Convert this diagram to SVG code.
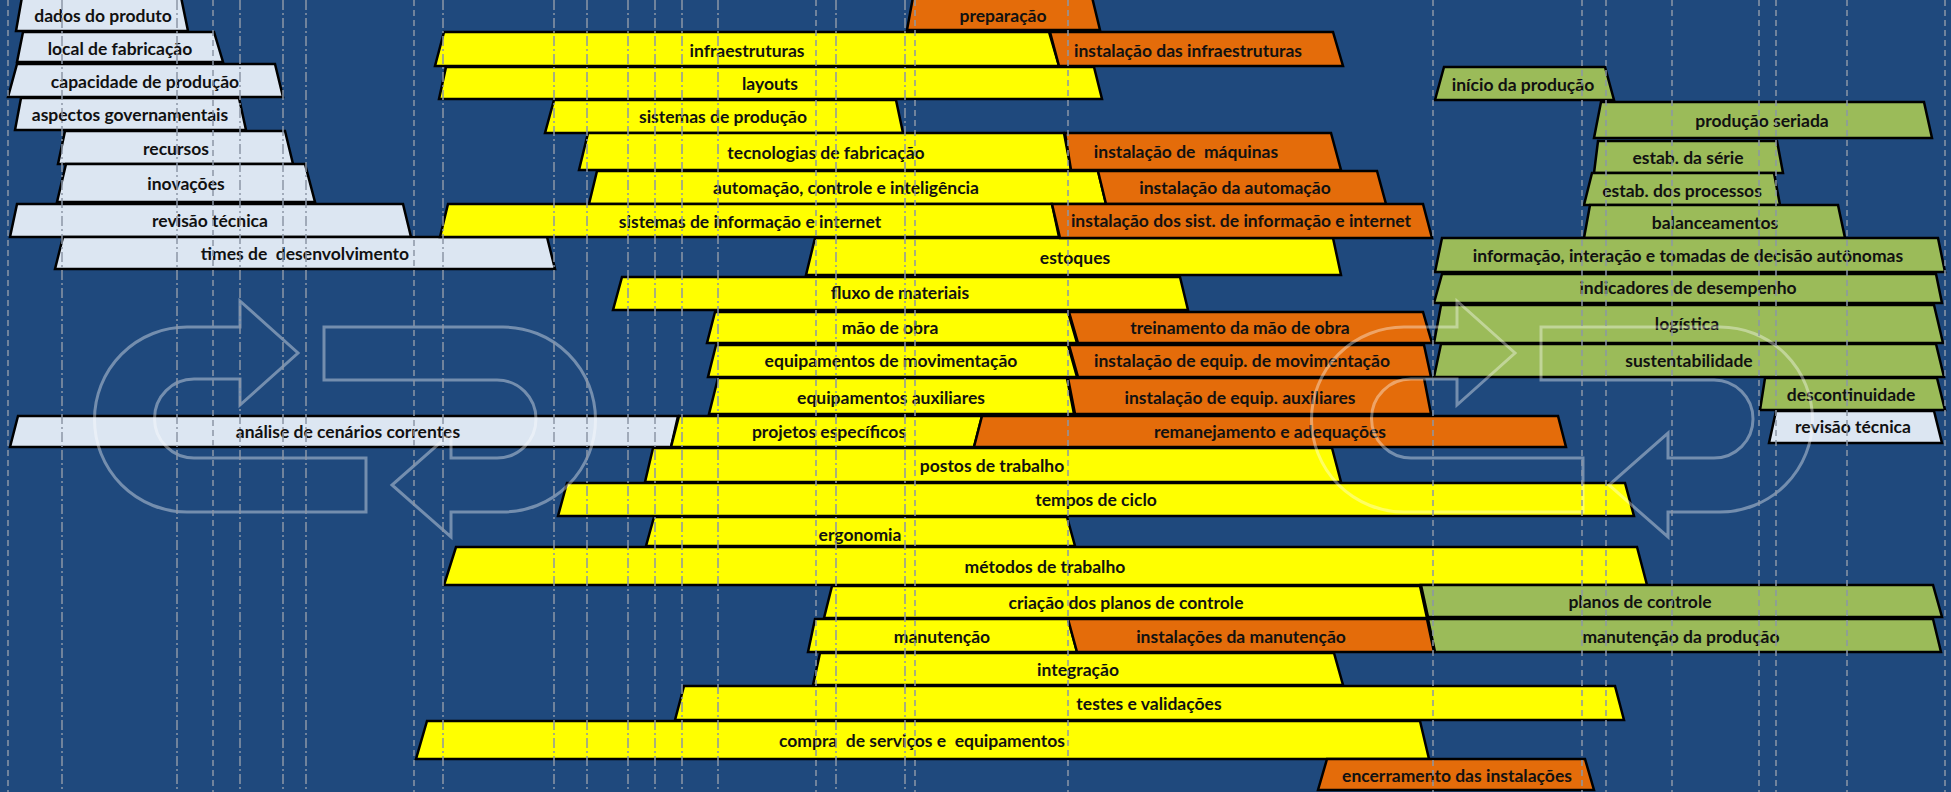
<svg xmlns="http://www.w3.org/2000/svg" width="1951" height="792" viewBox="0 0 1951 792">
  <style>
    .bx { stroke: #000; stroke-width: 2.5; stroke-linejoin: miter; }
    .lt { fill: #dce6f2; }
    .yl { fill: #ffff00; }
    .or { fill: #e46c0a; }
    .gr { fill: #9bbb59; }
    text { font-family: "Lato", "Liberation Sans", sans-serif; font-weight: bold; font-size: 17.5px; fill: #111; text-anchor: middle; white-space: pre; }
    .grid line { stroke: #8c96a6; stroke-width: 1.5; }
    .ds { stroke-dasharray: 6 4; }
    .dd { stroke-dasharray: 10 3 2 3; }
    .cycle { fill: none; stroke: #ffffff; stroke-opacity: 0.38; stroke-width: 3; stroke-linejoin: miter; }
  </style>
  <defs>
    <!-- interlocking loop arrows (watermark) -->
    <g id="loop">
      <path d="M240,327 L187,327 A92.5,92.5 0 0 0 187,512 L366,512 L366,458 L194,458 A39.5,39.5 0 0 1 194,379 L240,379 L240,405 L298,353 L240,301 Z"/>
      <path d="M324,327 L503,327 A92.5,92.5 0 0 1 503,512 L451,512 L451,537 L392,485 L451,433 L451,458 L497,458 A39,39 0 0 0 497,380 L324,380 Z"/>
    </g>
  </defs>

  <rect x="0" y="0" width="1951" height="792" fill="#1f497d"/>

  <!-- preparation phase (light) -->
  <g id="dados-produto"><polygon class="bx lt" points="22,-3 181,-3 188,31 16,31"/><text x="103" y="22">dados do produto</text></g>
  <g id="local-fabricacao"><polygon class="bx lt" points="23,32 214,32 223,62 17,62"/><text x="120" y="55">local de fabricação</text></g>
  <g id="capacidade-producao"><polygon class="bx lt" points="17,64 275,64 283,97 8,97"/><text x="145" y="88">capacidade de produção</text></g>
  <g id="aspectos-governamentais"><polygon class="bx lt" points="21,98 239,98 246,130 15,130"/><text x="130" y="121">aspectos governamentais</text></g>
  <g id="recursos"><polygon class="bx lt" points="65,131 285,131 293,164 58,164"/><text x="176" y="155">recursos</text></g>
  <g id="inovacoes"><polygon class="bx lt" points="66,164 305,164 315,202 57,202"/><text x="186" y="190">inovações</text></g>
  <g id="revisao-tecnica-1"><polygon class="bx lt" points="17,204 403,204 411,237 10,237"/><text x="210" y="227">revisão técnica</text></g>
  <g id="times-desenvolvimento"><polygon class="bx lt" points="63,237 547,237 555,269 55,269"/><text x="305" y="260">times de  desenvolvimento</text></g>
  <g id="analise-cenarios"><polygon class="bx lt" points="18,416 678,416 671,447 10,447"/><text x="348" y="438">análise de cenários correntes</text></g>

  <!-- project phase (yellow) -->
  <g id="infraestruturas"><polygon class="bx yl" points="444,32 1049,32 1059,66 435,66"/><text x="747" y="57">infraestruturas</text></g>
  <g id="layouts"><polygon class="bx yl" points="446,67 1094,67 1102,99 439,99"/><text x="770" y="90">layouts</text></g>
  <g id="sistemas-producao"><polygon class="bx yl" points="554,100 896,100 903,133 545,133"/><text x="723" y="123">sistemas de produção</text></g>
  <g id="tecnologias-fabricacao"><polygon class="bx yl" points="588,133 1064,133 1071,170 579,170"/><text x="826" y="159">tecnologias de fabricação</text></g>
  <g id="automacao"><polygon class="bx yl" points="597,171 1098,171 1106,204 589,204"/><text x="846" y="194">automação, controle e inteligência</text></g>
  <g id="sistemas-informacao"><polygon class="bx yl" points="448,204 1052,204 1059,237 440,237"/><text x="750" y="228">sistemas de informação e internet</text></g>
  <g id="estoques"><polygon class="bx yl" points="815,238 1333,238 1341,275 806,275"/><text x="1075" y="264">estoques</text></g>
  <g id="fluxo-materiais"><polygon class="bx yl" points="622,277 1180,277 1188,310 613,310"/><text x="900" y="299">fluxo de materiais</text></g>
  <g id="mao-obra"><polygon class="bx yl" points="715,312 1068,312 1077,343 707,343"/><text x="890" y="334">mão de obra</text></g>
  <g id="equip-movimentacao"><polygon class="bx yl" points="716,345 1068,345 1077,377 708,377"/><text x="891" y="367">equipamentos de movimentação</text></g>
  <g id="equip-auxiliares"><polygon class="bx yl" points="718,378 1067,378 1074,414 709,414"/><text x="891" y="404">equipamentos auxiliares</text></g>
  <g id="projetos-especificos"><polygon class="bx yl" points="679,416 982,416 974,447 671,447"/><text x="829" y="438">projetos específicos</text></g>
  <g id="postos-trabalho"><polygon class="bx yl" points="653,448 1332,448 1341,482 645,482"/><text x="992" y="472">postos de trabalho</text></g>
  <g id="tempos-ciclo"><polygon class="bx yl" points="567,483 1625,483 1634,516 558,516"/><text x="1096" y="506">tempos de ciclo</text></g>
  <g id="ergonomia"><polygon class="bx yl" points="654,517 1067,517 1075,546 646,546"/><text x="860" y="541">ergonomia</text></g>
  <g id="metodos-trabalho"><polygon class="bx yl" points="456,547 1637,547 1647,585 444,585"/><text x="1045" y="573">métodos de trabalho</text></g>
  <g id="criacao-planos"><polygon class="bx yl" points="832,586 1420,586 1427,618 824,618"/><text x="1126" y="609">criação dos planos de controle</text></g>
  <g id="manutencao"><polygon class="bx yl" points="815,619 1068,619 1077,652 808,652"/><text x="942" y="643">manutenção</text></g>
  <g id="integracao"><polygon class="bx yl" points="820,653 1334,653 1343,685 813,685"/><text x="1078" y="676">integração</text></g>
  <g id="testes-validacoes"><polygon class="bx yl" points="684,686 1615,686 1624,720 675,720"/><text x="1149" y="710">testes e validações</text></g>
  <g id="compra-servicos"><polygon class="bx yl" points="427,721 1420,721 1429,759 416,759"/><text x="922" y="747">compra  de serviços e  equipamentos</text></g>

  <!-- installation phase (orange) -->
  <g id="preparacao"><polygon class="bx or" points="913,-3 1092,-3 1100,30 907,30"/><text x="1003" y="22">preparação</text></g>
  <g id="inst-infraestruturas"><polygon class="bx or" points="1050,32 1333,32 1343,66 1059,66"/><text x="1188" y="57">instalação das infraestruturas</text></g>
  <g id="inst-maquinas"><polygon class="bx or" points="1065,133 1331,133 1341,170 1071,170"/><text x="1186" y="158">instalação de  máquinas</text></g>
  <g id="inst-automacao"><polygon class="bx or" points="1098,171 1377,171 1386,204 1106,204"/><text x="1235" y="194">instalação da automação</text></g>
  <g id="inst-sistemas"><polygon class="bx or" points="1052,204 1423,204 1432,238 1060,238"/><text x="1241" y="227">instalação dos sist. de informação e internet</text></g>
  <g id="treinamento"><polygon class="bx or" points="1069,312 1423,312 1432,343 1078,343"/><text x="1240" y="334">treinamento da mão de obra</text></g>
  <g id="inst-equip-movimentacao"><polygon class="bx or" points="1069,345 1424,345 1431,377 1078,377"/><text x="1242" y="367">instalação de equip. de movimentação</text></g>
  <g id="inst-equip-auxiliares"><polygon class="bx or" points="1068,378 1424,378 1431,414 1075,414"/><text x="1240" y="404">instalação de equip. auxiliares</text></g>
  <g id="remanejamento"><polygon class="bx or" points="982,416 1558,416 1566,447 974,447"/><text x="1270" y="438">remanejamento e adequações</text></g>
  <g id="inst-manutencao"><polygon class="bx or" points="1068,619 1427,619 1434,652 1077,652"/><text x="1241" y="643">instalações da manutenção</text></g>
  <g id="encerramento"><polygon class="bx or" points="1327,759 1585,759 1594,790 1318,790"/><text x="1457" y="782">encerramento das instalações</text></g>

  <!-- production phase (green) -->
  <g id="inicio-producao"><polygon class="bx gr" points="1444,67 1605,67 1614,100 1435,100"/><text x="1523" y="91">início da produção</text></g>
  <g id="producao-seriada"><polygon class="bx gr" points="1601,102 1924,102 1932,138 1594,138"/><text x="1762" y="127">produção seriada</text></g>
  <g id="estab-serie"><polygon class="bx gr" points="1598,141 1777,141 1783,173 1594,173"/><text x="1688" y="164">estab. da série</text></g>
  <g id="estab-processos"><polygon class="bx gr" points="1592,173 1774,173 1780,205 1584,205"/><text x="1682" y="197">estab. dos processos</text></g>
  <g id="balanceamentos"><polygon class="bx gr" points="1590,205 1838,205 1845,238 1584,238"/><text x="1715" y="229">balanceamentos</text></g>
  <g id="informacao-interacao"><polygon class="bx gr" points="1442,238 1938,238 1945,272 1435,272"/><text x="1688" y="262">informação, interação e tomadas de decisão autônomas</text></g>
  <g id="indicadores"><polygon class="bx gr" points="1442,274 1936,274 1942,303 1434,303"/><text x="1688" y="294">indicadores de desempenho</text></g>
  <g id="logistica"><polygon class="bx gr" points="1441,305 1934,305 1943,343 1434,343"/><text x="1687" y="330">logística</text></g>
  <g id="sustentabilidade"><polygon class="bx gr" points="1441,344 1936,344 1944,377 1434,377"/><text x="1689" y="367">sustentabilidade</text></g>
  <g id="descontinuidade"><polygon class="bx gr" points="1765,378 1937,378 1945,410 1760,410"/><text x="1851" y="401">descontinuidade</text></g>
  <g id="revisao-tecnica-2"><polygon class="bx lt" points="1776,411 1934,411 1942,443 1769,443"/><text x="1853" y="433">revisão técnica</text></g>
  <g id="planos-controle"><polygon class="bx gr" points="1421,585 1933,585 1942,617 1428,617"/><text x="1640" y="608">planos de controle</text></g>
  <g id="manutencao-producao"><polygon class="bx gr" points="1428,619 1933,619 1941,652 1435,652"/><text x="1681" y="643">manutenção da produção</text></g>

  <!-- loop watermarks -->
  <g id="loop-left" class="cycle"><use href="#loop"/></g>
  <g id="loop-right" class="cycle"><use href="#loop" transform="translate(1217,0)"/></g>

  <!-- vertical time grid -->
  <g id="connectors" class="grid">
    <line class="ds" x1="8" y1="0" x2="8" y2="792"/>
    <line class="dd" x1="62" y1="0" x2="62" y2="792"/>
    <line class="dd" x1="177" y1="0" x2="177" y2="792"/>
    <line class="ds" x1="213" y1="0" x2="213" y2="792"/>
    <line class="dd" x1="240" y1="0" x2="240" y2="792"/>
    <line class="dd" x1="283" y1="0" x2="283" y2="792"/>
    <line class="dd" x1="306" y1="0" x2="306" y2="792"/>
    <line class="ds" x1="414" y1="0" x2="414" y2="792"/>
    <line class="dd" x1="443" y1="0" x2="443" y2="792"/>
    <line class="dd" x1="554" y1="0" x2="554" y2="792"/>
    <line class="dd" x1="587" y1="0" x2="587" y2="792"/>
    <line class="dd" x1="628" y1="0" x2="628" y2="792"/>
    <line class="dd" x1="655" y1="0" x2="655" y2="792"/>
    <line class="dd" x1="682" y1="0" x2="682" y2="792"/>
    <line class="dd" x1="718" y1="0" x2="718" y2="792"/>
    <line class="ds" x1="816" y1="0" x2="816" y2="792"/>
    <line class="dd" x1="836" y1="0" x2="836" y2="792"/>
    <line class="dd" x1="905" y1="0" x2="905" y2="792"/>
    <line class="ds" x1="915" y1="0" x2="915" y2="792"/>
    <line class="ds" x1="1068" y1="0" x2="1068" y2="792"/>
    <line class="ds" x1="1433" y1="0" x2="1433" y2="792"/>
    <line class="ds" x1="1582" y1="0" x2="1582" y2="792"/>
    <line class="ds" x1="1606" y1="0" x2="1606" y2="792"/>
    <line class="ds" x1="1672" y1="0" x2="1672" y2="792"/>
    <line class="ds" x1="1759" y1="0" x2="1759" y2="792"/>
    <line class="ds" x1="1776" y1="0" x2="1776" y2="792"/>
    <line class="ds" x1="1847" y1="0" x2="1847" y2="792"/>
    <line class="ds" x1="1945" y1="0" x2="1945" y2="792"/>
  </g>
</svg>
